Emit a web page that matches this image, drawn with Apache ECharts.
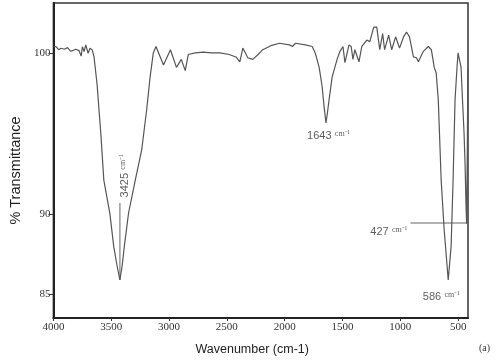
<!DOCTYPE html>
<html>
<head>
<meta charset="utf-8">
<script src="https://cdn.jsdelivr.net/npm/echarts@6/dist/echarts.min.js"></script>
<style>html,body{margin:0;padding:0;background:#fff}#c{width:500px;height:361px}</style>
</head>
<body>
<div id="c"></div>
<script>
// Wavenumber (cm-1) and % Transmittance
const wavenumbers = [4000,3977,3955,3934,3906,3878,3850,3835,3806,3778,3760,3749,3735,3720,3700,3683,3664,3649,3623,3590,3564,3512,3478,3450,3425,3405,3387,3350,3292,3236,3193,3164,3136,3113,3048,2988,2936,2894,2860,2834,2774,2705,2630,2560,2480,2422,2388,2362,2319,2276,2230,2190,2120,2045,1959,1933,1907,1822,1762,1736,1702,1676,1660,1643,1630,1616,1590,1547,1522,1496,1479,1444,1425,1410,1393,1358,1333,1290,1264,1230,1204,1178,1153,1136,1101,1075,1041,1007,972,947,921,887,861,844,801,758,732,707,690,672,647,621,586,561,544,527,510,501,488,475,462,449,440,432,427,421,416];
const transmittance = [100.4,100.39,100.2,100.29,100.23,100.33,100.1,100.19,100.23,100.14,99.8,100.39,100.08,100.5,99.98,100.29,100.19,99.77,98.1,95.0,92.1,90.04,87.97,86.8,85.9,86.8,87.97,90.06,92.1,94.0,96.5,98.5,100.0,100.4,99.25,100.2,99.1,99.6,98.9,99.9,100.0,100.05,100.0,100.0,99.9,99.75,99.45,100.3,99.7,99.6,99.9,100.2,100.45,100.6,100.5,100.4,100.6,100.5,100.4,100.0,99.1,97.9,96.7,95.65,96.3,97.1,98.5,99.6,100.1,100.4,99.4,100.5,100.4,99.6,100.2,99.45,100.4,100.8,100.7,101.6,101.6,100.2,101.2,100.2,101.1,100.2,101.0,100.3,101.0,101.3,101.0,99.75,99.7,99.45,100.1,100.4,100.2,99.1,98.75,97.1,92.1,89.0,85.9,88.0,92.1,97.1,99.1,100.0,99.9,99.1,97.0,95.0,93.0,90.5,89.4,94.0,99.0];

// Tick labels
const xTicks = [4000,3500,3000,2500,2000,1500,1000,500];
const yTicks = [85,90,100];

// Peak annotations
const peakNames = ['3425','1643','586','427'];
const peakLabelWn = [3384,1621,646,1100];
const peakLabelT = [92.36,94.84,84.84,88.88];
const peakRotate = [90,0,0,0];
// Leader lines
const leader3425 = [[3425,90.68],[3425,85.9]];
const leader427 = [[913,89.44],[427,89.44]];

const chart = echarts.init(document.getElementById('c'), null, {renderer:'canvas'});
const specData = wavenumbers.map((w,i)=>[w, transmittance[i]]);
const sans = "'Liberation Sans',Arial,sans-serif";
const serif = "'Liberation Serif','Times New Roman',serif";

const labelData = peakNames.map((n,i)=>({
  value:[peakLabelWn[i], peakLabelT[i]],
  label:{
    show:true, position:'inside', rotate:peakRotate[i],
    formatter:'{n|'+n+'} {u|cm⁻¹}',
    rich:{
      n:{fontFamily:sans, fontSize:11, color:'#333'},
      u:{fontFamily:serif, fontSize:8, color:'#333', verticalAlign:'top', padding:[0,0,4,0]}
    }
  }
}));

chart.setOption({
  animation:false,
  grid:{left:49, top:3, width:419, height:315, show:true, borderColor:'#333', borderWidth:1.5, backgroundColor:'transparent'},
  xAxis:{
    type:'value', inverse:true, min:415, max:4000,
    name:'Wavenumber (cm-1)', nameLocation:'middle', nameGap:25,
    nameTextStyle:{fontFamily:sans, fontSize:12.5, color:'#222', padding:[0,17,0,0]},
    axisLine:{show:true, lineStyle:{color:'#222', width:2}},
    axisTick:{show:true, length:3, customValues:xTicks, lineStyle:{color:'#333'}},
    axisLabel:{customValues:xTicks, formatter:v=>String(v), fontFamily:serif, fontSize:11, color:'#333', margin:4},
    splitLine:{show:false}
  },
  yAxis:{
    type:'value', min:83.54, max:103.1,
    name:'% Transmittance', nameLocation:'middle', nameRotate:90, nameGap:30,
    nameTextStyle:{fontFamily:sans, fontSize:14.5, color:'#222', padding:[0,20,0,0]},
    axisLine:{show:true, lineStyle:{color:'#222', width:2}},
    axisTick:{show:true, length:5, customValues:yTicks, lineStyle:{color:'#333'}},
    axisLabel:{customValues:yTicks, formatter:v=>String(v), fontFamily:serif, fontSize:11, color:'#333', margin:3},
    splitLine:{show:false}
  },
  series:[
    {type:'line', data:specData, symbol:'none', lineStyle:{color:'#555', width:1.2}, z:3},
    {type:'line', data:leader3425, symbol:'none', lineStyle:{color:'#999', width:1.5}, z:2},
    {type:'line', data:leader427, symbol:'none', lineStyle:{color:'#999', width:1.5}, z:2},
    {type:'scatter', data:labelData, symbolSize:0, z:4}
  ],
  graphic:[{type:'text', right:10, bottom:8, style:{text:'(a)', font:"10px 'Liberation Serif',serif", fill:'#333'}}]
});
</script>
</body>
</html>
